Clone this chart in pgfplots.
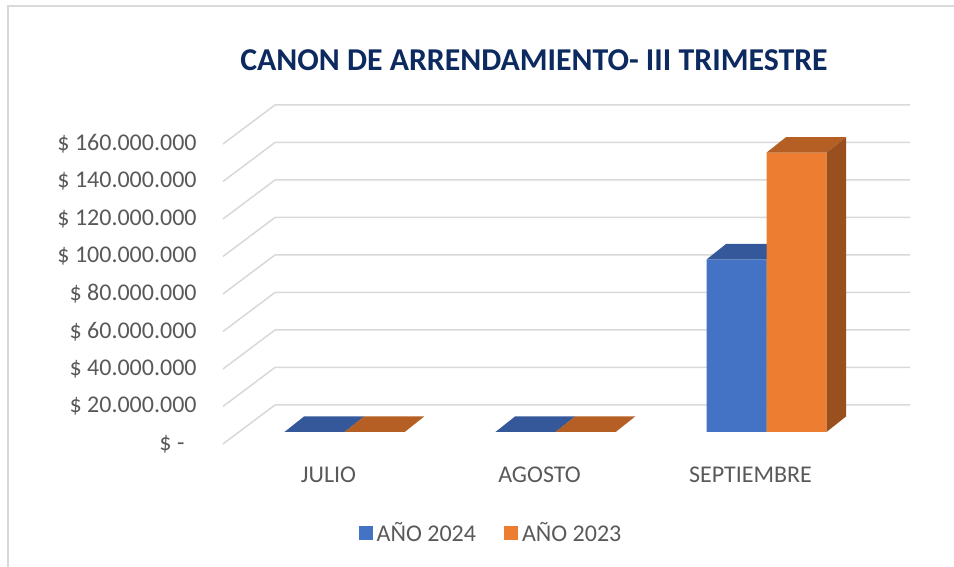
\documentclass[border=0pt]{standalone}
\usepackage{pgfplots}
\pgfplotsset{compat=1.18}
\usepackage{pgfplotstable}
\usepackage{fontspec}
\setmainfont{Carlito}
\definecolor{c24}{HTML}{4472C4}
\definecolor{c24top}{HTML}{34589A}
\definecolor{c24side}{HTML}{2F4F8A}
\definecolor{c23}{HTML}{ED7D31}
\definecolor{c23top}{HTML}{B55F24}
\definecolor{c23side}{HTML}{9A4F1E}
\definecolor{gridc}{HTML}{D9D9D9}
\definecolor{txt}{HTML}{595959}
\definecolor{titc}{HTML}{0D2A60}

\pgfplotstableread{
idx v2024 v2023
0 0 0
1 0 0
2 92000000 149000000
}\datos

\def\bw{0.2844}
\def\ddx{0.0924}
\def\ddy{8270000}

\newcommand\mkfaces[5]{%
  \pgfplotstablegetelem{#1}{#2}\of\datos
  \let\hv\pgfplotsretval
  \pgfmathsetmacro\xL{#1+#3}%
  \pgfmathsetmacro\xR{#1+#3+\bw}%
  \pgfmathsetmacro\xLb{\xL+\ddx}%
  \pgfmathsetmacro\xRb{\xR+\ddx}%
  \begingroup
    \pgfkeys{/pgf/fpu=true,/pgf/fpu/output format=sci}%
    \pgfmathparse{\hv+\ddy}\xdef\hT{\pgfmathresult}%
  \endgroup
  \edef\tmp{%
    \noexpand\addplot[fill=#4,draw=none,mark=none,forget plot] coordinates {(\xL,\hv) (\xR,\hv) (\xRb,\hT) (\xLb,\hT)};
    \noexpand\addplot[fill=#5,draw=none,mark=none,forget plot] coordinates {(\xR,0) (\xRb,\ddy) (\xRb,\hT) (\xR,\hv)};
  }\tmp
}

\begin{document}
\begin{tikzpicture}
\useasboundingbox (0,0) rectangle (477pt,283.5pt);
\draw[gridc, line width=0.75pt] (4pt,0) -- (4pt,280.5pt) -- (477pt,280.5pt);
\node[text=titc, font=\bfseries\fontsize{15.9}{18}\selectfont, inner sep=0pt] at (267pt,253.5pt) {CANON DE ARRENDAMIENTO- III TRIMESTRE};
\begin{axis}[
  at={(111.5pt,61.5pt)}, anchor=south west,
  scale only axis, width=343.5pt, height=169.5pt,
  xmin=-0.5758, xmax=2.680, ymin=-6400000, ymax=174400000,
  enlargelimits=false, clip=false,
  scaled y ticks=false, scaled x ticks=false,
  axis line style={draw=none}, tick style={draw=none}, major tick length=0pt,
  ytick={-6400000,13600000,33600000,53600000,73600000,93600000,113600000,133600000,153600000},
  yticklabels={\$ -\phantom{0},\$ 20.000.000,\$ 40.000.000,\$ 60.000.000,\$ 80.000.000,\$ 100.000.000,\$ 120.000.000,\$ 140.000.000,\$ 160.000.000},
  xtick={-0.0758,0.9242,1.9242},
  xticklabels={JULIO,AGOSTO,SEPTIEMBRE},
  yticklabel style={anchor=east, inner sep=0pt, xshift=-13pt, text=txt, font=\fontsize{12}{14}\selectfont},
  xticklabel style={anchor=center, inner sep=0pt, yshift=-15.5pt, text=txt, font=\fontsize{12}{14}\selectfont},
  /pgf/number format/assume math mode=true,
  legend columns=2,
  legend style={at={(0.3916,-0.2625)}, anchor=center, draw=none, fill=none,
    font=\fontsize{12}{14}\selectfont, text=txt,
    /tikz/every even column/.append style={column sep=12pt},
    cells={anchor=west}},
]
% gridlines (side wall + back wall)
\addplot[gridc, line width=0.75pt, mark=none, forget plot] coordinates {(-0.5758,-6400000) (-0.3294,14400000) (2.680,14400000)};
\addplot[gridc, line width=0.75pt, mark=none, forget plot] coordinates {(-0.5758,13600000) (-0.3294,34400000) (2.680,34400000)};
\addplot[gridc, line width=0.75pt, mark=none, forget plot] coordinates {(-0.5758,33600000) (-0.3294,54400000) (2.680,54400000)};
\addplot[gridc, line width=0.75pt, mark=none, forget plot] coordinates {(-0.5758,53600000) (-0.3294,74400000) (2.680,74400000)};
\addplot[gridc, line width=0.75pt, mark=none, forget plot] coordinates {(-0.5758,73600000) (-0.3294,94400000) (2.680,94400000)};
\addplot[gridc, line width=0.75pt, mark=none, forget plot] coordinates {(-0.5758,93600000) (-0.3294,114400000) (2.680,114400000)};
\addplot[gridc, line width=0.75pt, mark=none, forget plot] coordinates {(-0.5758,113600000) (-0.3294,134400000) (2.680,134400000)};
\addplot[gridc, line width=0.75pt, mark=none, forget plot] coordinates {(-0.5758,133600000) (-0.3294,154400000) (2.680,154400000)};
\addplot[gridc, line width=0.75pt, mark=none, forget plot] coordinates {(-0.5758,153600000) (-0.3294,174400000) (2.680,174400000)};
% AÑO 2024
\addplot[ybar, bar width=0.2844, bar shift=-0.1422, fill=c24, draw=none,
  legend image code/.code={\fill[c24] (0pt,-3.5pt) rectangle (7pt,3.5pt);}]
  table[x=idx, y=v2024]{\datos};
\addlegendentry{AÑO 2024}
\pgfplotsinvokeforeach{0,1,2}{\mkfaces{#1}{v2024}{-0.2844}{c24top}{c24side}}
% AÑO 2023
\addplot[ybar, bar width=0.2844, bar shift=0.1422, fill=c23, draw=none,
  legend image code/.code={\fill[c23] (0pt,-3.5pt) rectangle (7pt,3.5pt);}]
  table[x=idx, y=v2023]{\datos};
\addlegendentry{AÑO 2023}
\pgfplotsinvokeforeach{0,1,2}{\mkfaces{#1}{v2023}{0}{c23top}{c23side}}
\end{axis}
\end{tikzpicture}
\end{document}
